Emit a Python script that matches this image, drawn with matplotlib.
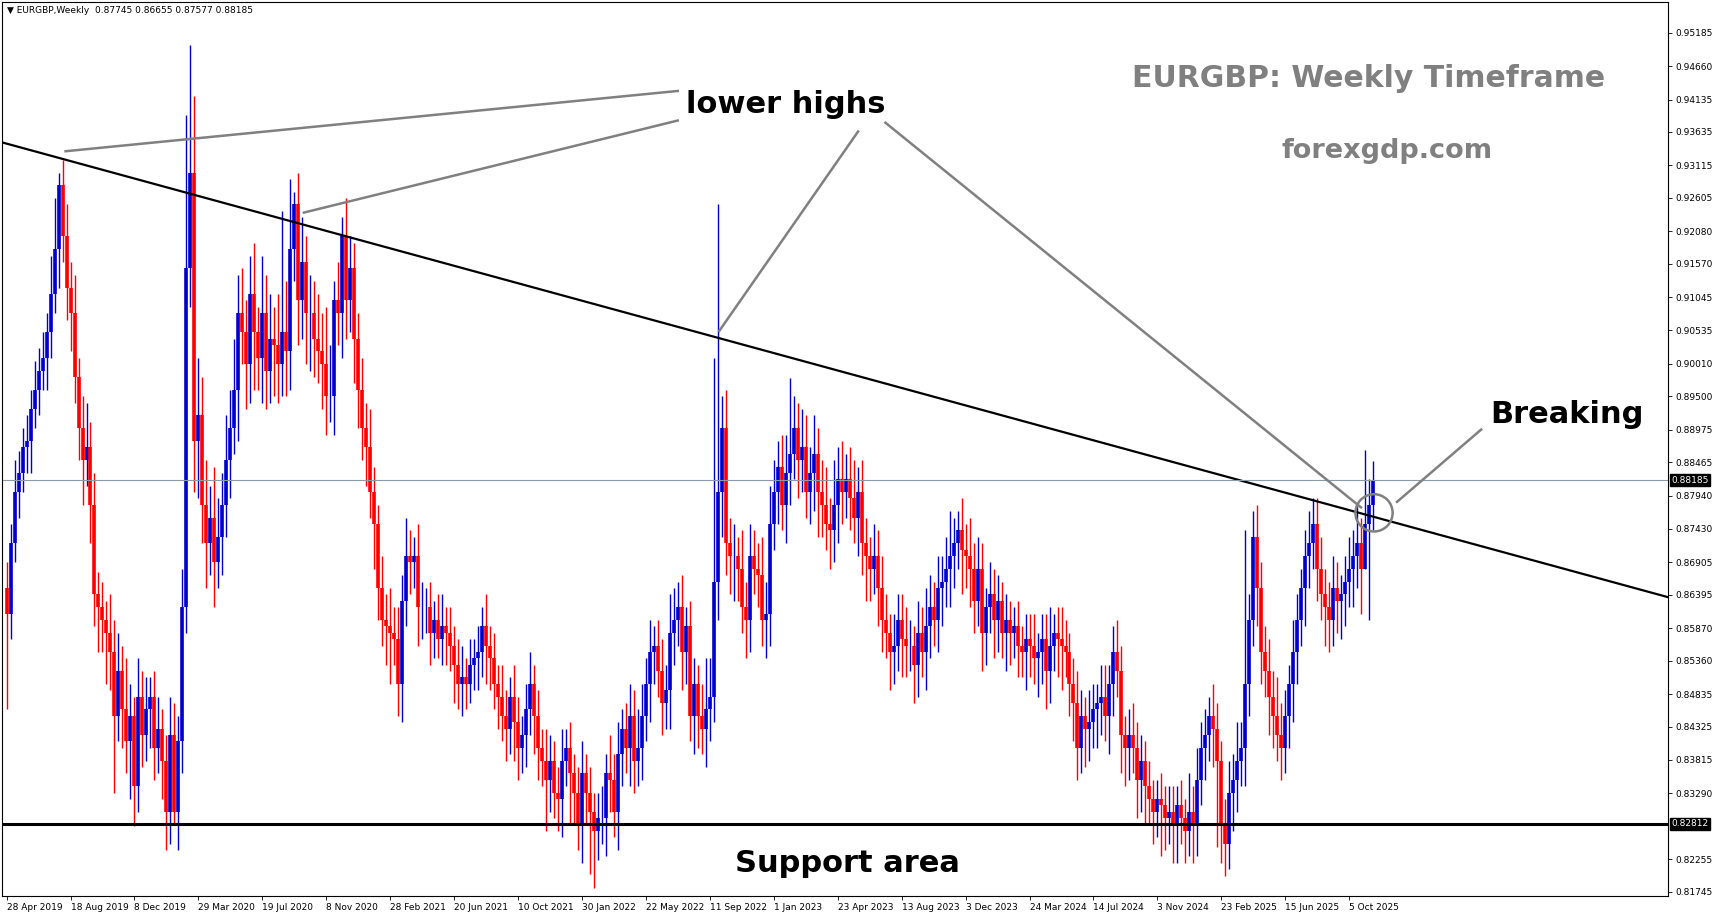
import matplotlib
matplotlib.use("Agg")
import matplotlib.pyplot as plt
from matplotlib.patches import Ellipse
import numpy as np

closes = [
 .8610,.8720,.8800,.8830, .8870,.8880,.8930,.8960, .8990,.9010,.9050,.9110,
 .9180,.9280,.9200,.9120, .9080,.8980,.8900,.8850, .8870,.8780,.8640,.8620,
 .8600,.8580,.8550,.8450, .8520,.8460,.8410,.8450,.8340,.8480,
 .8420,.8460,.8480,.8400,.8430,.8380,.8300,.8420, .8300,
 .8410,.8620,.9150,.9300,.8880,.8920,.8780,.8720,.8760,.8690,.8730,.8780,
 .8850,.8900,.8960,.9080,.9050,.9000,.9110,.9050,.9010,.9080,.8990,.9040,
 .9030,.9000,.9050,.9020,.9180,.9250,.9100,.9160,.9080,.9080,.9040,.9020,
 .9000,.8950,.8950,.9100,.9080,.9200,.9100,.9150,.9040,.8960,.8900,.8870,
 .8800,.8750,.8650,.8600,.8590,.8580,.8570,.8500,.8630,.8700,.8690,.8700,
 .8620,.8620,.8620,.8580,.8600,.8570,.8590,.8580,.8560,.8530,.8500,.8510,
 .8500,.8530,.8540,.8550,.8590,.8560,.8540,.8500,.8480,.8450,.8430,.8480,
 .8440,.8400,.8420,.8460,.8500,.8450,.8400,.8380,.8350,.8380,.8330,.8320,
 .8380,.8400,.8360,.8330,.8280,.8360,.8330,.8300,.8270,.8290,.8290,
 .8360,.8350,.8300,.8390, .8430,.8400,.8450,.8380, .8400,.8450,.8500,.8550,
 .8560,.8520,.8470,.8490, .8580,.8600,.8620,.8550, .8590,.8450,.8500,.8450,
 .8430,.8460,.8480,.8660, .8800,.8900,.8720,.8700, .8700,.8680,.8620,.8600,
 .8700,.8680,.8670,.8600,
 .8610,.8750,.8800,.8840,.8780,.8830,.8860,.8900,
 .8850,.8870,.8800,.8830, .8860,.8800,.8780,.8750, .8740,.8780,.8820,.8800,
 .8820,.8790,.8760,.8800, .8720,.8700,.8680,.8700, .8650,.8600,.8580,.8550,
 .8560,.8600,.8570,.8560, .8560,.8530,.8580,.8550, .8590,.8620,.8600,.8650,
 .8660,.8680,.8700,.8720, .8740,.8710,.8700,.8680, .8630,.8680,.8580,.8620,
 .8640,.8600,.8630,.8580, .8600,.8580,.8590,.8560, .8550,.8570,.8560,.8540,
 .8550,.8570,.8520,.8560, .8580,.8570,.8560,.8550, .8500,.8470,.8400,.8450,
 .8430,.8440,.8460,.8470, .8480,.8450,.8500,.8550, .8520,.8420,.8400,.8420,
 .8400,.8350,.8380,.8340, .8320,.8300,.8320,.8310, .8290,.8300,.8280,.8310,
 .8290,.8270,.8300,.8280, .8350,.8400,.8420,.8450, .8430,.8380,.8280,.8250,
 .8330,.8350,.8380,.8400, .8500,.8600,.8730,.8650, .8550,.8520,.8480,.8450,
 .8420,.8400,.8450,.8500, .8550,.8600,.8650,.8700, .8720,.8750,.8680,.8640,
 .8620,.8600,.8650,.8630, .8640,.8660,.8680,.8700, .8720,.8680,.8750,.8780,
 .88185]
first_open = 0.8650

# upper / lower wick lengths in pips (0.0001)
up_wick = [
 40,30,50,35, 30,40,30,45, 35,40,30,60, 80,40,20,50, 40,60,30,50, 70,40,50,35,
 40,30,60,50, 60,40,80,50,30,60, 40,50,30,40,50,30,40,60, 50,
 40,60,200,200,120,90,60,70,50,80,60, 50,70,60,80,60,70,50,60,80,40,90,
 60,70,50,80,190,80,60,90,50,70,40,60, 50,70,60,90,80,30,60,80,60,50,40,40,
 50,40,60,40,30,50,40,60,40,50,40,60, 40,30,50,40,30,40,30,40,50,30,40,30,
 40,50,30,40,30,40,30,50,30,40,30,50, 40,30,50,40,30,40,50,30,40,30,50,40,
 30,40,50,30,40,30,40,50,30,40,30,
 40,50,30,60, 40,50,30,40, 50,40,60,50, 40,50,30,40, 50,40,60,50, 40,50,30,40,
 40,30,50,80, 60,350,60,50, 60,40,50,30, 60,40,50,40,
 40,60,50,60,50,40,50,60,
 80,50,40,60, 50,40,60,40, 50,60,40,70, 50,60,40,50, 60,40,50,40, 30,50,40,50,
 40,30,50,40, 40,50,40,30, 50,40,60,50, 40,50,40,50, 50,40,30,50, 40,60,40,50,
 40,30,50,40, 40,30,40,30, 30,40,30,40, 40,50,30,40, 40,60,30,40, 50,40,30,40,
 50,40,30,50, 40,30,50,50, 30,40,50,40, 30,40,50,40, 40,30,40,30, 30,40,30,40,
 40,30,40,30, 60,40,50,40, 40,30,50,40, 30,40,50,40, 60,40,30,40, 40,50,40,40,
 50,40,60,50, 40,30,50,40, 30,40,50,40, 40,50,40,40, 50,40,30,40, 50,40,60,40,
 47]
dn_wick = [
 150,40,30,40, 30,40,50,30, 40,30,50,40, 30,60,40,50, 60,40,50,70, 40,60,50,70,
 50,80,60,120, 40,60,50,90,80,40, 50,40,60,50,40,60,60,50, 40,
 60,50,40,60,80,90,60,70,50,70,40, 60,50,60,40,80,50,70,60,90,50,70,
 60,50,80,60,50,70,60,50,70,60,80,90, 60,50,70,60,40,60,50,70,60,50,70,60,
 50,60,40,70,50,40,60,80,40,50,60,40, 50,40,60,50,40,50,40,30,40,50,40,60,
 40,50,40,30,40,50,40,60,50,40,50,40, 50,40,60,50,40,50,40,60,50,40,80,50,
 40,50,60,40,80,50,40,60,50,40,90,
 50,40,60,50, 40,60,50,40, 60,50,40,50, 40,60,50,40, 50,40,60,50, 40,60,50,40,
 60,50,40,60, 50,40,60,70, 50,60,70,50, 40,60,50,40,
 50,40,60,50,40,50,40,60,
 50,40,60,50, 40,50,60,70, 50,40,60,50, 60,50,40,50, 40,60,50,70, 50,40,60,50,
 40,60,50,40, 60,50,40,60, 50,40,60,50, 40,50,60,40, 60,50,40,70, 50,60,50,40,
 60,50,40,60, 50,40,60,50, 40,50,40,60, 50,40,60,50, 60,50,40,60, 70,40,50,60,
 50,40,60,50, 40,60,50,40, 60,50,40,60, 60,50,40,60, 50,60,40,50, 40,80,50,40,
 60,50,40,50, 40,60,50,40, 50,40,60,50, 60,50,40,60, 50,40,60,50, 40,60,50,40,
 60,50,40,50, 40,50,60,50, 40,60,50,40, 50,40,60,50, 40,50,60,50, 40,60,50,70,
 60]

# notable extreme highs / lows (week index -> price)
high_marks = {14: 0.9320, 13: 0.9300, 46: 0.9500, 45: 0.9390, 71: 0.9290, 72: 0.9270,
              84: 0.9230, 178: 0.9250, 196: 0.8978, 236: 0.8770, 310: 0.8740, 340: 0.8866}
low_marks = {32: 0.8277, 42: 0.8283, 146: 0.8203, 148: 0.8225, 293: 0.8220,
             303: 0.8245, 340: 0.8758}

date_labels = ["28 Apr 2019","18 Aug 2019","8 Dec 2019","29 Mar 2020","19 Jul 2020",
 "8 Nov 2020","28 Feb 2021","20 Jun 2021","10 Oct 2021","30 Jan 2022","22 May 2022",
 "11 Sep 2022","1 Jan 2023","23 Apr 2023","13 Aug 2023","3 Dec 2023","24 Mar 2024",
 "14 Jul 2024","3 Nov 2024","23 Feb 2025","15 Jun 2025","5 Oct 2025"]
price_ticks = [0.95185,0.94660,0.94135,0.93635,0.93115,0.92605,0.92080,0.91570,0.91045,
 0.90535,0.90010,0.89500,0.88975,0.88465,0.87940,0.87430,0.86905,0.86395,0.85870,
 0.85360,0.84835,0.84325,0.83815,0.83290,0.82255,0.81745]
support_level = 0.82812
last_price = 0.88185
trend_start = (-1.1, 0.93471)
trend_end = (415.8, 0.86356)

W, H = 1568, 835
fig = plt.figure(figsize=(17.14, 9.15), dpi=100)
ax = fig.add_axes([2/W, 1-818/H, 1524/W, 816/H])
ax.set_facecolor("white")

n = len(closes)
opens = [first_open] + closes[:-1]
for i in range(n):
    o, c = opens[i], closes[i]
    hi = max(o, c) + up_wick[i % len(up_wick)]*1e-4
    lo = min(o, c) - dn_wick[i % len(dn_wick)]*1e-4
    if i in high_marks:
        hi = max(high_marks[i], max(o, c))
    if i in low_marks:
        lo = min(low_marks[i], min(o, c))
    col = "#0000CD" if c >= o else "#FF0000"
    ax.vlines(i, lo, hi, color=col, lw=1.0)
    ax.vlines(i, min(o, c), max(o, c), color=col, lw=2.6)

ax.set_xlim(-1.1, 415.8)
ax.set_ylim(0.81745 - 0.0007, 0.95185 + 0.0048)

ax.plot([trend_start[0], trend_end[0]], [trend_start[1], trend_end[1]], color="black", lw=1.6)
ax.axhline(support_level, color="black", lw=2.2)
ax.axhline(last_price, color="#8a9aa6", lw=0.8)

ax.yaxis.tick_right()
ax.set_yticks(price_ticks)
ax.set_yticklabels([f"{p:.5f}" for p in price_ticks], fontsize=6.5)
ax.set_xticks([16*k for k in range(len(date_labels))])
ax.set_xticklabels(date_labels, fontsize=6.5, ha="left")
ax.tick_params(length=3, width=0.6, pad=2)
for s in ax.spines.values():
    s.set_linewidth(0.8)

for lvl in (last_price, support_level):
    ax.text(1.002, lvl, f"{lvl:.5f}", transform=ax.get_yaxis_transform(), fontsize=6.5,
            color="white", va="center", ha="left",
            bbox=dict(boxstyle="square,pad=0.15", fc="black", ec="black"))

def F(x, y):
    return (x/W, 1-y/H)

fig.text(*F(6, 10), "▼ EURGBP,Weekly  0.87745 0.86655 0.87577 0.88185", fontsize=6.5, va="center")
fig.text(*F(628, 95), "lower highs", fontsize=22, fontweight="bold", va="center")
fig.text(*F(1363, 378), "Breaking", fontsize=22, fontweight="bold", va="center")
fig.text(*F(775, 788), "Support area", fontsize=22, fontweight="bold", va="center", ha="center")
fig.text(*F(1252, 72), "EURGBP: Weekly Timeframe", fontsize=21.5, fontweight="bold",
         color="#808080", va="center", ha="center")
fig.text(*F(1269, 138), "forexgdp.com", fontsize=19.5, fontweight="bold",
         color="#808080", va="center", ha="center")

lines = [((620, 83), (60, 138)), ((620, 110), (278, 194)), ((785, 120), (658, 302)),
         ((810, 112), (1245, 463)), ((1355, 392), (1278, 458))]
for (x1, y1), (x2, y2) in lines:
    fig.add_artist(plt.Line2D([x1/W, x2/W], [1-y1/H, 1-y2/H], color="#808080", lw=1.8,
                              transform=fig.transFigure))
fig.add_artist(Ellipse(F(1257, 468), 34/W, 34/H, transform=fig.transFigure,
                       fill=False, ec="#808080", lw=1.8))

fig.savefig("out.png", dpi=100)
